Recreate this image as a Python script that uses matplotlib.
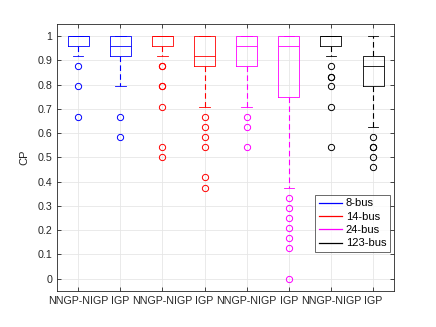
import matplotlib
matplotlib.use("Agg")
import matplotlib.pyplot as plt
from matplotlib.lines import Line2D

# --- data (CP values, steps of 1/24) ---
labels = ["NNGP-NIGP", "IGP"] * 4
systems = ["8-bus", "14-bus", "24-bus", "123-bus"]
sys_colors = ["#0000ff", "#ff0000", "#ff00ff", "#000000"]

q1 = [0.958, 0.917, 0.958, 0.875, 0.875, 0.750, 0.958, 0.792]
med = [1.000, 0.958, 1.000, 0.917, 0.958, 0.958, 1.000, 0.875]
q3 = [1.000, 1.000, 1.000, 1.000, 1.000, 1.000, 1.000, 0.917]
whislo = [0.917, 0.792, 0.917, 0.708, 0.708, 0.375, 0.917, 0.625]
whishi = [1.000, 1.000, 1.000, 1.000, 1.000, 1.000, 1.000, 1.000]
fliers = [
    [0.875, 0.792, 0.667],
    [0.667, 0.583],
    [0.875, 0.875, 0.792, 0.792, 0.708, 0.542, 0.500],
    [0.667, 0.625, 0.583, 0.542, 0.417, 0.375],
    [0.667, 0.625, 0.542],
    [0.333, 0.292, 0.250, 0.208, 0.167, 0.125, 0.000],
    [0.875, 0.833, 0.833, 0.792, 0.708, 0.542],
    [0.583, 0.542, 0.542, 0.500, 0.458],
]

plt.rcParams["font.family"] = ["Liberation Sans", "DejaVu Sans"]

fig = plt.figure(figsize=(4.36, 3.27), dpi=100)
ax = fig.add_axes([0.131, 0.111, 0.773, 0.816])

lw = 0.6
for i in range(len(labels)):
    c = sys_colors[i // 2]
    st = [{"q1": q1[i], "med": med[i], "q3": q3[i], "whislo": whislo[i],
           "whishi": whishi[i], "fliers": fliers[i]}]
    ax.bxp(st, positions=[i + 1], widths=0.5, showfliers=True,
           boxprops=dict(color=c, linewidth=lw),
           medianprops=dict(color=c, linewidth=lw),
           whiskerprops=dict(color=c, linewidth=0.8, linestyle=(0, (5, 3))),
           capprops=dict(color=c, linewidth=lw),
           capwidths=0.25,
           flierprops=dict(marker="o", markerfacecolor="none",
                           markeredgecolor=c, markersize=4.5, markeredgewidth=0.7))

ax.set_xlim(0.5, 8.5)
ax.set_ylim(-0.05, 1.05)
ax.set_xticks(range(1, 9))
ax.set_xticklabels(labels)
yt = [k / 10 for k in range(11)]
ax.set_yticks(yt)
ax.set_yticklabels(["0", "0.1", "0.2", "0.3", "0.4", "0.5", "0.6", "0.7", "0.8", "0.9", "1"])
ax.set_ylabel("CP", fontsize=8, color="#262626", labelpad=6)
ax.tick_params(labelsize=7.7, colors="#262626", direction="in", length=3,
               top=True, right=True, width=0.6)
ax.grid(True, color="#e6e6e6", linewidth=0.6)
ax.set_axisbelow(True)
for s in ax.spines.values():
    s.set_color("#262626")
    s.set_linewidth(0.6)

handles = [Line2D([0], [0], color=c, linewidth=0.9) for c in sys_colors]
leg = ax.legend(handles, systems, loc="lower right", bbox_to_anchor=(0.987, 0.146),
                fontsize=8, frameon=True, fancybox=False, handlelength=2.1,
                handletextpad=0.35, borderpad=0.3, labelspacing=0.3,
                borderaxespad=0)
leg.get_frame().set_edgecolor("#262626")
leg.get_frame().set_linewidth(0.6)

fig.savefig("out.png", dpi=100)
